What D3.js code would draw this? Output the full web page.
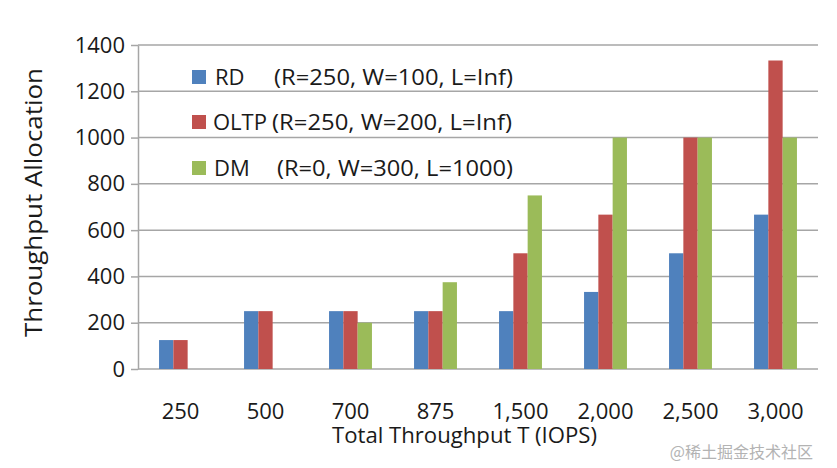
<!DOCTYPE html>
<html>
<head>
<meta charset="utf-8">
<script src="https://cdn.jsdelivr.net/npm/d3@7"></script>
<style>
  body { margin: 0; background: #fff; }
  svg { font-family: "Open Sans", sans-serif; }
</style>
</head>
<body>
<div id="chart"></div>
<script>
var categories = ['250', '500', '700', '875', '1,500', '2,000', '2,500', '3,000'];
var seriesNames = ['RD', 'OLTP', 'DM'];
var seriesParams = ['(R=250, W=100, L=Inf)', '(R=250, W=200, L=Inf)', '(R=0, W=300, L=1000)'];
var rdValues = [125, 250, 250, 250, 250, 333, 500, 667];
var oltpValues = [125, 250, 250, 250, 500, 667, 1000, 1333];
var dmValues = [0, 0, 200, 375, 750, 1000, 1000, 1000];
var yTicks = [0, 200, 400, 600, 800, 1000, 1200, 1400];
var colors = ['#4F81BD', '#C0504D', '#9BBB59'];

var width = 837, height = 468;
var margin = {left: 138, right: 19, top: 45, bottom: 99};

var svg = d3.select('#chart').append('svg')
    .attr('width', width)
    .attr('height', height);

var x = d3.scaleBand()
    .domain(categories)
    .range([margin.left, width - margin.right]);

var barW = 14.3;
var xs = d3.scaleBand()
    .domain(seriesNames)
    .range([0, barW * 3]);

var y = d3.scaleLinear()
    .domain([0, 1400])
    .range([height - margin.bottom, margin.top]);

// gridlines
svg.append('g')
    .selectAll('line')
    .data(yTicks)
    .enter()
    .append('line')
    .attr('x1', margin.left)
    .attr('x2', width - margin.right)
    .attr('y1', function(d) { return y(d); })
    .attr('y2', function(d) { return y(d); })
    .attr('stroke', '#a6a6a6')
    .attr('stroke-width', 1.5);

// y axis
var yAxis = svg.append('g')
    .attr('transform', 'translate(' + margin.left + ',0)')
    .call(d3.axisLeft(y).tickValues(yTicks).tickFormat(d3.format('d'))
      .tickSize(7).tickPadding(6).tickSizeOuter(0));
yAxis.select('.domain').attr('stroke', '#a6a6a6').attr('stroke-width', 1.5);
yAxis.selectAll('.tick line').attr('stroke', '#a6a6a6').attr('stroke-width', 1.5);
yAxis.selectAll('.tick text')
    .attr('fill', '#1a1a1a')
    .style('font-size', '22px')
    .style('font-family', '"Open Sans", sans-serif');

// bars
var allSeries = [rdValues, oltpValues, dmValues];
var groups = svg.append('g')
    .selectAll('g')
    .data(allSeries)
    .enter()
    .append('g')
    .attr('fill', function(d, i) { return colors[i]; });

groups.selectAll('rect')
    .data(function(d, i) {
      return d.map(function(v, j) { return {s: i, c: categories[j], v: v}; });
    })
    .enter()
    .append('rect')
    .attr('x', function(d) {
      return x(d.c) + x.bandwidth() / 2 - barW * 1.5 + xs(seriesNames[d.s]);
    })
    .attr('width', xs.bandwidth())
    .attr('y', function(d) { return y(d.v); })
    .attr('height', function(d) { return y(0) - y(d.v); });

// x labels
svg.append('g')
    .selectAll('text')
    .data(categories)
    .enter()
    .append('text')
    .attr('x', function(d) { return x(d) + x.bandwidth() / 2; })
    .attr('y', 419)
    .attr('text-anchor', 'middle')
    .attr('fill', '#1a1a1a')
    .style('font-size', '22px')
    .text(function(d) { return d; });

// axis titles
svg.append('text')
    .attr('x', 332)
    .attr('y', 443)
    .attr('textLength', 265)
    .attr('lengthAdjust', 'spacingAndGlyphs')
    .attr('fill', '#1a1a1a')
    .style('font-size', '22px')
    .text('Total Throughput T (IOPS)');

svg.append('text')
    .attr('transform', 'translate(42,337) rotate(-90)')
    .attr('textLength', 269)
    .attr('lengthAdjust', 'spacingAndGlyphs')
    .attr('fill', '#1a1a1a')
    .style('font-size', '23px')
    .text('Throughput Allocation');

// legend
var legendY = [77, 122, 168];
var nameX = [215, 213, 214];
var paramX = [274, 272, 277];
var paramLen = [239, 240, 236];
var legend = svg.append('g')
    .selectAll('g')
    .data(seriesNames)
    .enter()
    .append('g')
    .attr('transform', function(d, i) { return 'translate(0,' + legendY[i] + ')'; });

legend.append('rect')
    .attr('x', 192)
    .attr('y', -7)
    .attr('width', 14)
    .attr('height', 14)
    .attr('fill', function(d, i) { return colors[i]; });

legend.append('text')
    .attr('x', function(d, i) { return nameX[i]; })
    .attr('y', 7.5)
    .attr('fill', '#1a1a1a')
    .style('font-size', '22px')
    .text(function(d) { return d; });

legend.append('text')
    .attr('x', function(d, i) { return paramX[i]; })
    .attr('y', 7.5)
    .attr('textLength', function(d, i) { return paramLen[i]; })
    .attr('lengthAdjust', 'spacingAndGlyphs')
    .attr('fill', '#1a1a1a')
    .style('font-size', '22px')
    .text(function(d, i) { return seriesParams[i]; });

// watermark
svg.append('text')
    .attr('x', 813)
    .attr('y', 458)
    .attr('text-anchor', 'end')
    .attr('fill', '#b3b3b3')
    .style('font-size', '16px')
    .style('font-family', '"Noto Sans CJK SC", sans-serif')
    .text('@稀土掘金技术社区');
</script>
</body>
</html>
